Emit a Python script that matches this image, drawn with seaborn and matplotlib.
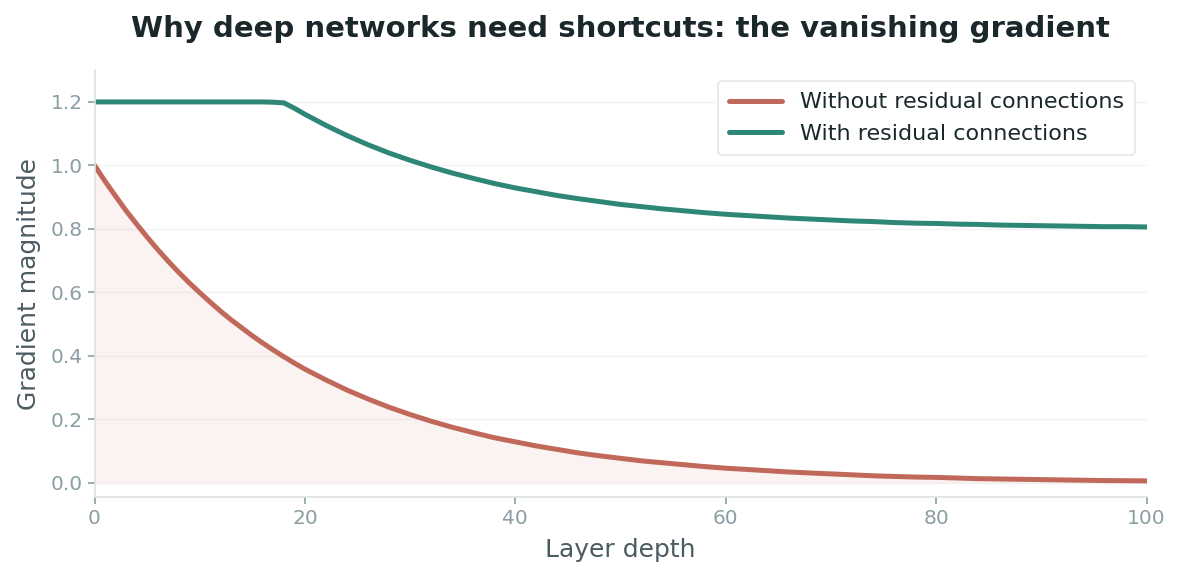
import numpy as np
import pandas as pd
import matplotlib
matplotlib.use("Agg")
import matplotlib.pyplot as plt
import seaborn as sns

# Values: every layer up to 20, then every 2 layers
layers = list(range(0, 21)) + list(range(22, 101, 2))
without_residual = [
    1.000, 0.950, 0.903, 0.857, 0.815, 0.774, 0.735, 0.698, 0.663, 0.630,
    0.599, 0.569, 0.540, 0.513, 0.488, 0.463, 0.440, 0.418, 0.397, 0.377,
    0.358, 0.324, 0.292, 0.264, 0.238, 0.215, 0.194, 0.175, 0.158, 0.142,
    0.129, 0.116, 0.105, 0.094, 0.085, 0.077, 0.069, 0.063, 0.057, 0.051,
    0.046, 0.042, 0.038, 0.034, 0.031, 0.028, 0.025, 0.022, 0.020, 0.018,
    0.017, 0.015, 0.013, 0.012, 0.011, 0.010, 0.009, 0.008, 0.007, 0.0065,
    0.006,
]
with_residual = [
    1.200, 1.200, 1.200, 1.200, 1.200, 1.200, 1.200, 1.200, 1.200, 1.200,
    1.200, 1.200, 1.200, 1.200, 1.200, 1.200, 1.200, 1.199, 1.197, 1.180,
    1.161, 1.126, 1.094, 1.065, 1.039, 1.016, 0.995, 0.976, 0.959, 0.943,
    0.929, 0.917, 0.905, 0.895, 0.886, 0.877, 0.870, 0.863, 0.857, 0.851,
    0.846, 0.842, 0.838, 0.834, 0.831, 0.828, 0.825, 0.823, 0.820, 0.818,
    0.817, 0.815, 0.814, 0.812, 0.811, 0.810, 0.809, 0.808, 0.807, 0.807,
    0.806,
]
series_names = ["Without residual connections", "With residual connections"]

red = "#c0695a"
green = "#2e8676"
tick_col = "#8a9ea3"
label_col = "#4a5b61"
spine_col = "#dce3e3"

df = pd.DataFrame({
    "layer": layers * 2,
    "grad": without_residual + with_residual,
    "series": [series_names[0]] * len(layers) + [series_names[1]] * len(layers),
})

sns.set_theme(style="white")
plt.rcParams["font.family"] = ["DejaVu Sans"]

fig, ax = plt.subplots(figsize=(11.82, 5.8), dpi=100)
fig.subplots_adjust(left=0.080, right=0.970, top=0.879, bottom=0.143)

sns.lineplot(data=df, x="layer", y="grad", hue="series",
             palette=[red, green], linewidth=3.6, ax=ax)
ax.fill_between(layers, without_residual, 0, color=red, alpha=0.08, linewidth=0)

ax.set_xlim(0, 100)
ax.set_ylim(-0.045, 1.3)
ax.set_xticks([0, 20, 40, 60, 80, 100])
ax.set_yticks([0.0, 0.2, 0.4, 0.6, 0.8, 1.0, 1.2])
ax.yaxis.grid(True, color="#f2f4f4", linewidth=1)
ax.set_axisbelow(True)

for side in ["top", "right"]:
    ax.spines[side].set_visible(False)
for side in ["left", "bottom"]:
    ax.spines[side].set_color(spine_col)
    ax.spines[side].set_linewidth(1.2)

ax.tick_params(axis="both", colors=tick_col, labelsize=14.5, length=5, width=1.2,
               left=True, bottom=True)
ax.set_xlabel("Layer depth", fontsize=18, color=label_col, labelpad=7)
ax.set_ylabel("Gradient magnitude", fontsize=18, color=label_col, labelpad=7)
ax.set_title("Why deep networks need shortcuts: the vanishing gradient",
             fontsize=21, fontweight="bold", color="#1a282c", pad=24)

leg = ax.legend(loc="upper right", fontsize=16, frameon=True, handlelength=2.4,
                borderpad=0.5, labelspacing=0.5)
leg.get_frame().set_edgecolor(spine_col)
leg.get_frame().set_linewidth(1.2)
for t in leg.get_texts():
    t.set_color("#1a282c")
for h in leg.get_lines():
    h.set_linewidth(3.6)

fig.savefig("out.png", dpi=100)
